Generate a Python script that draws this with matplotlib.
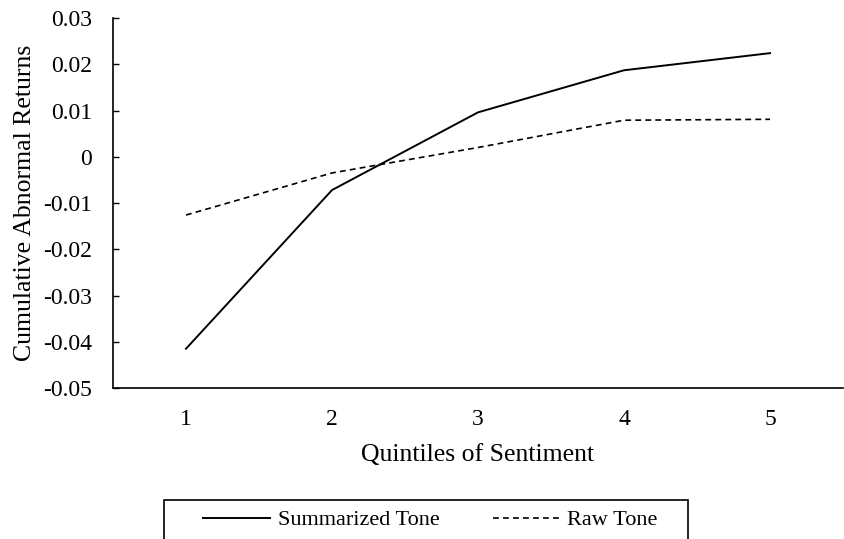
import matplotlib
matplotlib.use("Agg")
from matplotlib import pyplot as plt
from matplotlib.patches import Rectangle

quintiles = [1, 2, 3, 4, 5]
summarized_tone = [-0.0415, -0.0072, 0.0096, 0.0187, 0.0224]
raw_tone = [-0.0126, -0.0035, 0.0020, 0.0079, 0.0081]
y_ticks = [-0.05, -0.04, -0.03, -0.02, -0.01, 0, 0.01, 0.02, 0.03]
y_labels = ["-0.05", "-0.04", "-0.03", "-0.02", "-0.01", "0", "0.01", "0.02", "0.03"]

plt.rcParams['font.family'] = ['Liberation Serif', 'DejaVu Serif']

fig = plt.figure(figsize=(8.44, 5.39), dpi=100)
ax = fig.add_axes([0.1339, 0.2801, 0.8649, 0.6865])

x = list(range(len(quintiles)))
ax.plot(x, summarized_tone, color='black', linewidth=1.4, label='Summarized Tone')
ax.plot(x, raw_tone, color='black', linewidth=1.2, linestyle=(0, (3.5, 2.5)), label='Raw Tone')

ax.set_xlim(-0.5, len(quintiles) - 0.5)
ax.set_ylim(-0.05, 0.03)
ax.set_xticks(x)
ax.set_xticklabels([str(q) for q in quintiles])
ax.set_yticks(y_ticks)
ax.set_yticklabels(y_labels)
ax.tick_params(axis='x', length=0, pad=15, labelsize=17)
ax.tick_params(axis='y', direction='in', length=4.5, width=1, pad=15, labelsize=17)

for s in ['top', 'right']:
    ax.spines[s].set_visible(False)
for s in ['left', 'bottom']:
    ax.spines[s].set_linewidth(1.2)

ax.set_xlabel('Quintiles of Sentiment', fontsize=18.5, labelpad=10.5)
ax.set_ylabel('Cumulative Abnormal Returns', fontsize=18.5, labelpad=5)

# legend box (bottom runs off the picture like in the original)
fig.patches.append(Rectangle((164 / 844, -10 / 539), (688 - 164) / 844, (49) / 539,
                             transform=fig.transFigure, fill=False, edgecolor='black',
                             linewidth=1.2))
leg = fig.legend(loc='center left', bbox_to_anchor=(203 / 844, 1 - 520 / 539), ncol=2,
                 fontsize=16, frameon=False, handlelength=3.0, handletextpad=0.36,
                 columnspacing=2.4, borderpad=0, borderaxespad=0)

fig.savefig('out.png', dpi=100)
